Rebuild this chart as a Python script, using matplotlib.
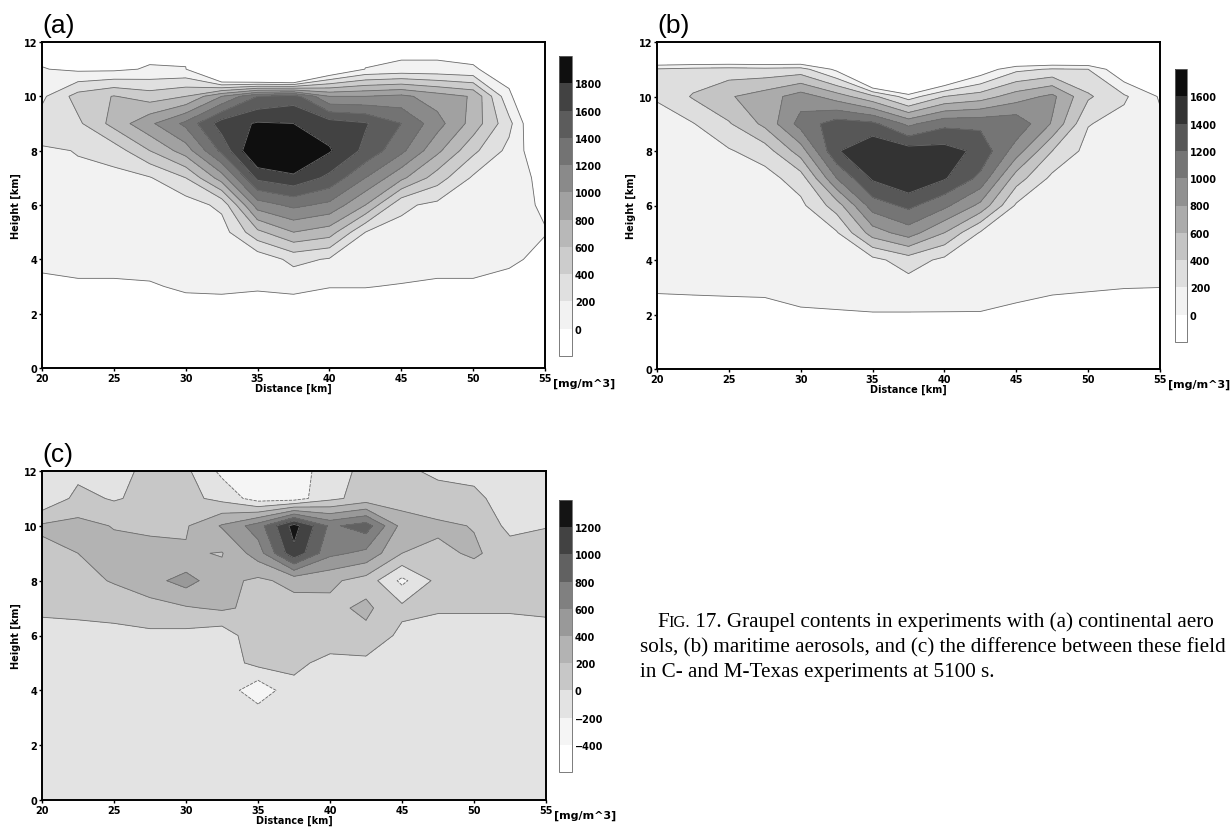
import numpy as np
import matplotlib.pyplot as plt
from matplotlib.colors import ListedColormap

#------------------------------------
# Grid of the cross sections
#------------------------------------

x_km = [20, 22.5, 25, 27.5, 30, 32.5, 35, 37.5, 40, 42.5, 45, 47.5, 50, 52.5, 55]
z_km = [0, 1, 2, 3, 4, 5, 6, 7, 8, 9, 10, 11, 12]

# (a) continental aerosols [mg/m^3]; one list per x column, z = 0..12 km
# (-100 and below: no graupel)
cols_a = [
    [-100, -100, -100, -50, 50, 80, 110, 140, 180, 290, 160, 10, -100],
    [-100, -100, -100, -30, 70, 100, 130, 180, 205, 360, 480, -40, -100],
    [-100, -100, -100, -30, 70, 100, 130, 140, 290, 670, 610, -40, -100],
    [-100, -100, -100, -20, 80, 110, 140, 185, 600, 960, 500, 20, -100],
    [-100, -100, -100, 30, 70, 90, 100, 400, 900, 1250, 600, 10, -100],
    [-100, -100, -100, 40, 80, 100, 250, 900, 1450, 1700, 1000, -900, -100],
    [-100, -100, -100, 20, 60, 550, 1100, 1650, 2050, 1820, 1400, -1300, -100],
    [-100, -100, -100, 40, 260, 800, 1250, 1750, 2100, 1800, 1500, -1500, -100],
    [-100, -100, -100, 5, 180, 700, 1150, 1550, 1820, 1700, 1000, -300, -100],
    [-100, -100, -100, 5, 100, 200, 800, 1200, 1550, 1620, 1000, 5, -100],
    [-100, -100, -100, -10, 80, 140, 240, 850, 1250, 1400, 1050, 50, -100],
    [-100, -100, -100, -30, 70, 110, 150, 500, 850, 1080, 900, 50, -100],
    [-100, -100, -100, -30, 70, 100, 130, 170, 450, 720, 780, 20, -100],
    [-100, -100, -100, -80, 40, 60, 80, 100, 140, 260, 40, -100, -100],
    [-100, -100, -100, -100, -60, 10, -30, -60, -200, -400, -400, -100, -100],
]

# (b) maritime aerosols [mg/m^3]; one list per x column, z = 0..12 km
cols_b = [
    [-100, -100, -100, 30, 50, 70, 90, 110, 130, 160, 210, 220, -1250],
    [-100, -100, -100, 40, 60, 80, 100, 120, 150, 190, 420, 260, -1250],
    [-100, -100, -100, 50, 70, 90, 110, 140, 180, 380, 580, 280, -1250],
    [-100, -100, -100, 60, 80, 100, 110, 120, 300, 650, 700, 260, -1250],
    [-100, -100, -30, 80, 100, 120, 150, 300, 700, 1080, 900, 280, -1250],
    [-100, -100, -20, 90, 110, 180, 500, 1000, 1380, 1300, 700, -50, -1250],
    [-100, -100, -10, 100, 140, 700, 1100, 1430, 1580, 1250, 450, -1000, -1250],
    [-100, -100, -10, 100, 300, 900, 1250, 1580, 1500, 950, 100, -1200, -1250],
    [-100, -100, -10, 90, 150, 600, 1050, 1420, 1480, 1150, 400, -600, -1250],
    [-100, -100, -10, 80, 120, 180, 750, 1150, 1350, 1150, 500, -150, -1250],
    [-100, -100, -60, 80, 100, 130, 170, 500, 900, 1150, 700, 150, -1250],
    [-100, -100, -100, 40, 70, 90, 110, 150, 400, 780, 850, 220, -1250],
    [-100, -100, -100, 20, 40, 60, 80, 100, 130, 210, 430, 200, -1250],
    [-100, -100, -100, 5, 20, 40, 60, 80, 100, 130, 230, -200, -1250],
    [-100, -100, -100, 1, 10, 20, 30, 40, 50, 40, -20, -300, -1250],
]

# (c) difference C - M [mg/m^3]; one list per z row (0..12 km), x = 20..55 km
rows_c = [
    [-50] * 15,
    [-50] * 15,
    [-50] * 15,
    [-50] * 15,
    [-50, -50, -50, -50, -50, -60, -350, -50, -50, -50, -50, -50, -50, -50, -50],
    [-50, -50, -50, -50, -60, -100, 60, 40, -50, -50, -50, -50, -50, -50, -50],
    [-40, -40, -40, -40, -60, -120, 150, 120, 100, 150, -50, -40, -40, -40, -40],
    [20, 30, 50, 120, 180, 230, 150, 120, 150, 240, 50, 10, 10, 10, 20],
    [60, 120, 220, 330, 480, 260, 160, 260, 240, 120, -250, 60, 80, 100, 110],
    [150, 200, 260, 250, 220, 190, 500, 1150, 650, 550, 200, 150, 230, 100, 100],
    [230, 260, 190, 170, 180, 420, 700, 1280, 760, 900, 330, 240, 190, -60, -10],
    [-180, 60, -20, 60, 60, -60, -300, -300, -50, 80, 90, 60, 40, -80, -80],
    [-100, -60, -40, 30, 40, -250, -300, -300, -100, 60, 30, -30, -50, -50, -50],
]

levels_a = [0, 200, 400, 600, 800, 1000, 1200, 1400, 1600, 1800]
levels_b = [0, 200, 400, 600, 800, 1000, 1200, 1400, 1600]
levels_c = [-400, -200, 0, 200, 400, 600, 800, 1000, 1200]

# caption as printed (the page cuts it at the right edge)
caption = ["IG.", " 17. Graupel contents in experiments with (a) continental aero",
           "sols, (b) maritime aerosols, and (c) the difference between these field",
           "in C- and M-Texas experiments at 5100 s."]

#------------------------------------
# Figure
#------------------------------------

W, H = 1232, 828
fig = plt.figure(figsize=(W / 100, H / 100), dpi=100)
fig.patch.set_facecolor('white')


def box(l, t, r, b):
    # pixel box -> figure fraction
    return [l / W, 1 - b / H, (r - l) / W, (b - t) / H]


def panel(field, levels, shades, over, under, ax_px, cax_px, tag):
    ax = fig.add_axes(box(*ax_px))
    cax = fig.add_axes(box(*cax_px))

    cmap = ListedColormap([str(s) for s in shades])
    cmap.set_over(str(over))
    cmap.set_under(str(under))

    X, Z = np.meshgrid(x_km, z_km)
    cs = ax.contourf(X, Z, field, levels=levels, cmap=cmap, extend='both')
    ax.contour(X, Z, field, levels=levels, colors='0.42', linewidths=0.6)

    ax.set_xlim(20, 55)
    ax.set_ylim(0, 12)
    ax.set_xticks([20, 25, 30, 35, 40, 45, 50, 55])
    ax.set_yticks([0, 2, 4, 6, 8, 10, 12])
    ax.tick_params(direction='out', length=2.5, width=1, labelsize=7, pad=1)
    for lab in ax.get_xticklabels() + ax.get_yticklabels():
        lab.set_fontweight('bold')
    for s in ax.spines.values():
        s.set_linewidth(1.4)
    ax.set_xlabel('Distance [km]', fontsize=7, fontweight='bold', labelpad=0)
    ax.set_ylabel('Height [km]', fontsize=7, fontweight='bold', labelpad=2)
    ax.text(1.015, -0.045, '[mg/m^3]', transform=ax.transAxes, fontsize=8,
            fontweight='bold', ha='left', va='center')
    ax.text(0.0, 1.015, tag, transform=ax.transAxes, fontsize=19,
            family='Liberation Sans', ha='left', va='bottom')

    nbins = len(levels) - 1
    cb = fig.colorbar(cs, cax=cax, extendrect=True, extendfrac=1.0 / nbins,
                      ticks=levels)
    cb.outline.set_linewidth(0.6)
    cb.outline.set_edgecolor('0.4')
    cb.ax.tick_params(length=0, labelsize=7, pad=2)
    for lab in cb.ax.get_yticklabels():
        lab.set_fontweight('bold')
    return ax


panel(np.array(cols_a).T, levels_a,
      [0.95, 0.88, 0.8, 0.72, 0.63, 0.54, 0.45, 0.36, 0.26], 0.06, 1.0,
      (42, 43, 545, 369), (559, 57, 572, 357), '(a)')
panel(np.array(cols_b).T, levels_b,
      [0.95, 0.87, 0.77, 0.67, 0.57, 0.46, 0.34, 0.2], 0.05, 1.0,
      (657, 43, 1160, 370), (1175, 70, 1187, 343), '(b)')
panel(np.array(rows_c), levels_c,
      [0.96, 0.89, 0.78, 0.7, 0.6, 0.5, 0.38, 0.26], 0.08, 1.0,
      (42, 472, 546, 801), (559, 501, 572, 773), '(c)')

# caption, "FIG." in small capitals
serif = 'Liberation Serif'
fs = 15.2
r = fig.canvas.get_renderer()
inv = fig.transFigure.inverted()
y1 = 1 - 627 / H
t = fig.text(657 / W, y1, 'F', fontsize=fs, family=serif, va='baseline')
x_next = inv.transform(t.get_window_extent(r))[1][0]
t = fig.text(x_next, y1, caption[0], fontsize=fs * 0.78, family=serif, va='baseline')
x_next = inv.transform(t.get_window_extent(r))[1][0]
fig.text(x_next, y1, caption[1], fontsize=fs, family=serif, va='baseline')
fig.text(640 / W, 1 - 652 / H, caption[2], fontsize=fs, family=serif, va='baseline')
fig.text(640 / W, 1 - 677 / H, caption[3], fontsize=fs, family=serif, va='baseline')

fig.savefig('out.png', dpi=100)
